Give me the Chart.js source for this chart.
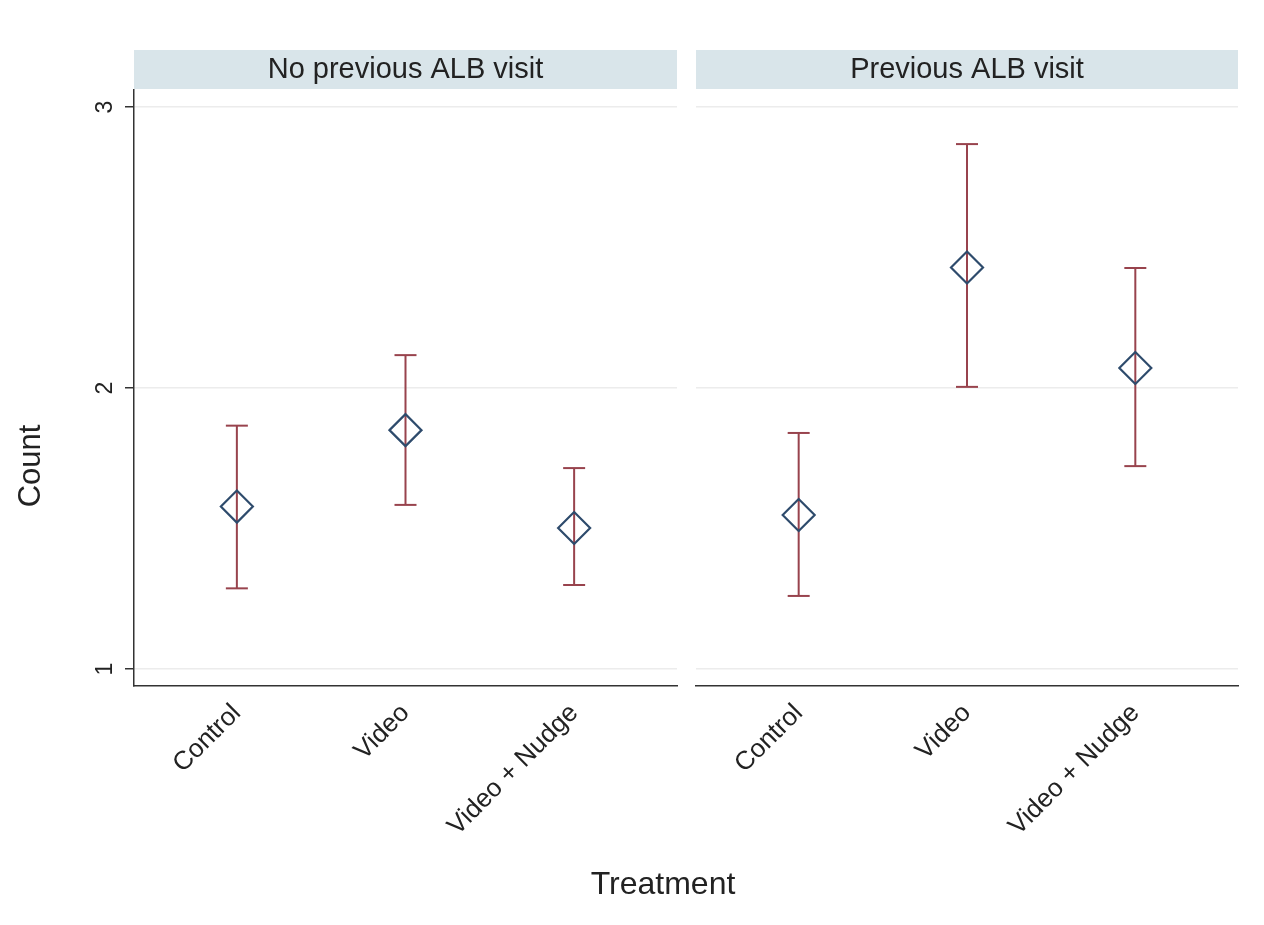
<!DOCTYPE html>
<html>
<head>
<meta charset="utf-8">
<title>Count by treatment</title>
<script src="https://cdn.jsdelivr.net/npm/chart.js@4.4.1/dist/chart.umd.min.js"></script>
<style>
  body { margin: 0; background: #ffffff; }
  #wrap { position: relative; width: 1264px; height: 925px; overflow: hidden; }
  canvas { position: absolute; top: 0; }
  #left-panel { left: 0; }
  #right-panel { left: 687px; }
  #x-title {
    position: absolute; left: 463px; top: 864px; width: 400px;
    text-align: center; font: 32px "Liberation Sans", Arial, sans-serif;
    line-height: 38px; color: #222;
  }
</style>
</head>
<body>
<div id="wrap">
  <canvas id="left-panel" width="687" height="925"></canvas>
  <canvas id="right-panel" width="577" height="925"></canvas>
  <div id="x-title">Treatment</div>
</div>
<script>
// Chart data
var categories = ['Control', 'Video', 'Video + Nudge'];
var panelTitles = ['No previous ALB visit', 'Previous ALB visit'];
var yTicks = [1, 2, 3];
var yTickLabels = ['1', '2', '3'];
var yTitle = 'Count';

// No previous ALB visit
var noPrevMean = [1.578, 1.850, 1.502];
var noPrevLow = [1.287, 1.584, 1.299];
var noPrevHigh = [1.866, 2.117, 1.715];

// Previous ALB visit
var prevMean = [1.548, 2.429, 2.071];
var prevLow = [1.260, 2.004, 1.722];
var prevHigh = [1.840, 2.868, 2.427];

var navy = '#2e4b6c';
var maroon = '#98434d';
var gridColor = '#ececec';
var axisColor = '#333333';

Chart.defaults.font.family = '"Liberation Sans", Arial, sans-serif';
Chart.defaults.color = '#222222';

//Turn arrays into {x, y} points for the markers
function meanPoints(mean) {
    return mean.map(function(v, i) { return { x: i + 1, y: v }; });
}

//CI segments, broken by a null point after each one
function ciPoints(low, high) {
    var pts = [];
    categories.forEach(function(c, i) {
        pts.push({ x: i + 1, y: low[i] });
        pts.push({ x: i + 1, y: high[i] });
        pts.push({ x: i + 1, y: null });
    });
    return pts;
}

//Grey strip with the panel name on top of each plot
function stripPlugin(title) {
    return {
        id: 'strip',
        beforeDraw: function(chart) {
            var ctx = chart.ctx;
            var area = chart.chartArea;
            ctx.save();
            ctx.fillStyle = '#d9e5ea';
            ctx.fillRect(area.left, 50, area.right - area.left, 39);
            ctx.fillStyle = '#222222';
            ctx.font = '29px "Liberation Sans", Arial, sans-serif';
            ctx.textAlign = 'center';
            ctx.textBaseline = 'middle';
            ctx.fillText(title, (area.left + area.right) / 2, 70);
            ctx.restore();
        }
    };
}

//Stata style vertical y tick labels and the y title
var yLabelPlugin = {
    id: 'yLabels',
    afterDraw: function(chart) {
        var ctx = chart.ctx;
        var scale = chart.scales.y;
        ctx.save();
        ctx.font = '23px "Liberation Sans", Arial, sans-serif';
        ctx.fillStyle = '#222222';
        ctx.textAlign = 'center';
        ctx.textBaseline = 'bottom';
        yTicks.forEach(function(v, i) {
            var py = scale.getPixelForValue(v);
            ctx.save();
            ctx.translate(scale.right - 17, py);
            ctx.rotate(-Math.PI / 2);
            ctx.fillText(yTickLabels[i], 0, 0);
            ctx.restore();
        });
        // title is centred on the whole figure height, like Stata does
        ctx.font = '31px "Liberation Sans", Arial, sans-serif';
        ctx.textBaseline = 'middle';
        ctx.translate(31, 466);
        ctx.rotate(-Math.PI / 2);
        ctx.fillText(yTitle, 0, 0);
        ctx.restore();
    }
};

function makePanel(canvasId, title, mean, low, high, showYAxis) {
    var plugins = [stripPlugin(title)];
    if (showYAxis) plugins.push(yLabelPlugin);

    return new Chart(document.getElementById(canvasId), {
        type: 'scatter',
        data: {
            datasets: [{
                data: meanPoints(mean),
                pointStyle: 'rectRot',
                pointRadius: 16,
                pointBorderWidth: 2.2,
                pointBorderColor: navy,
                pointBackgroundColor: 'rgba(0,0,0,0)'
            }, {
                data: ciPoints(low, high),
                showLine: true,
                spanGaps: false,
                borderColor: maroon,
                borderWidth: 2,
                pointStyle: 'line',
                pointRadius: 11,
                pointBorderWidth: 2,
                pointBorderColor: maroon
            }]
        },
        options: {
            responsive: false,
            animation: false,
            events: [],
            layout: {
                autoPadding: false,
                padding: showYAxis ? { top: 90, right: 10, left: 0, bottom: 0 }
                                   : { top: 90, right: 26, left: 9, bottom: 0 }
            },
            plugins: {
                legend: { display: false },
                tooltip: { enabled: false }
            },
            scales: {
                x: {
                    type: 'linear',
                    min: 0.39,
                    max: 3.61,
                    afterBuildTicks: function(scale) {
                        scale.ticks = categories.map(function(c, i) { return { value: i + 1 }; });
                    },
                    afterFit: function(scale) {
                        scale.height = 239;
                        scale.paddingLeft = 0;
                        scale.paddingRight = 0;
                    },
                    grid: { display: false },
                    border: { display: true, color: axisColor, width: 1.5 },
                    ticks: {
                        autoSkip: false,
                        minRotation: 45,
                        maxRotation: 45,
                        padding: 4,
                        font: { size: 26 },
                        callback: function(value) { return categories[value - 1]; }
                    }
                },
                y: {
                    type: 'linear',
                    min: 0.9395,
                    max: 3.0605,
                    afterBuildTicks: function(scale) {
                        scale.ticks = yTicks.map(function(v) { return { value: v }; });
                    },
                    afterFit: function(scale) {
                        scale.width = showYAxis ? 134 : 0;
                        scale.paddingTop = 0;
                        scale.paddingBottom = 0;
                    },
                    grid: {
                        color: gridColor,
                        lineWidth: 1.5,
                        drawTicks: showYAxis,
                        tickLength: 9,
                        tickColor: axisColor,
                        tickWidth: 1.5
                    },
                    border: { display: showYAxis, color: axisColor, width: 1.5 },
                    ticks: { display: false }
                }
            }
        },
        plugins: plugins
    });
}

makePanel('left-panel', panelTitles[0], noPrevMean, noPrevLow, noPrevHigh, true);
makePanel('right-panel', panelTitles[1], prevMean, prevLow, prevHigh, false);
</script>
</body>
</html>
